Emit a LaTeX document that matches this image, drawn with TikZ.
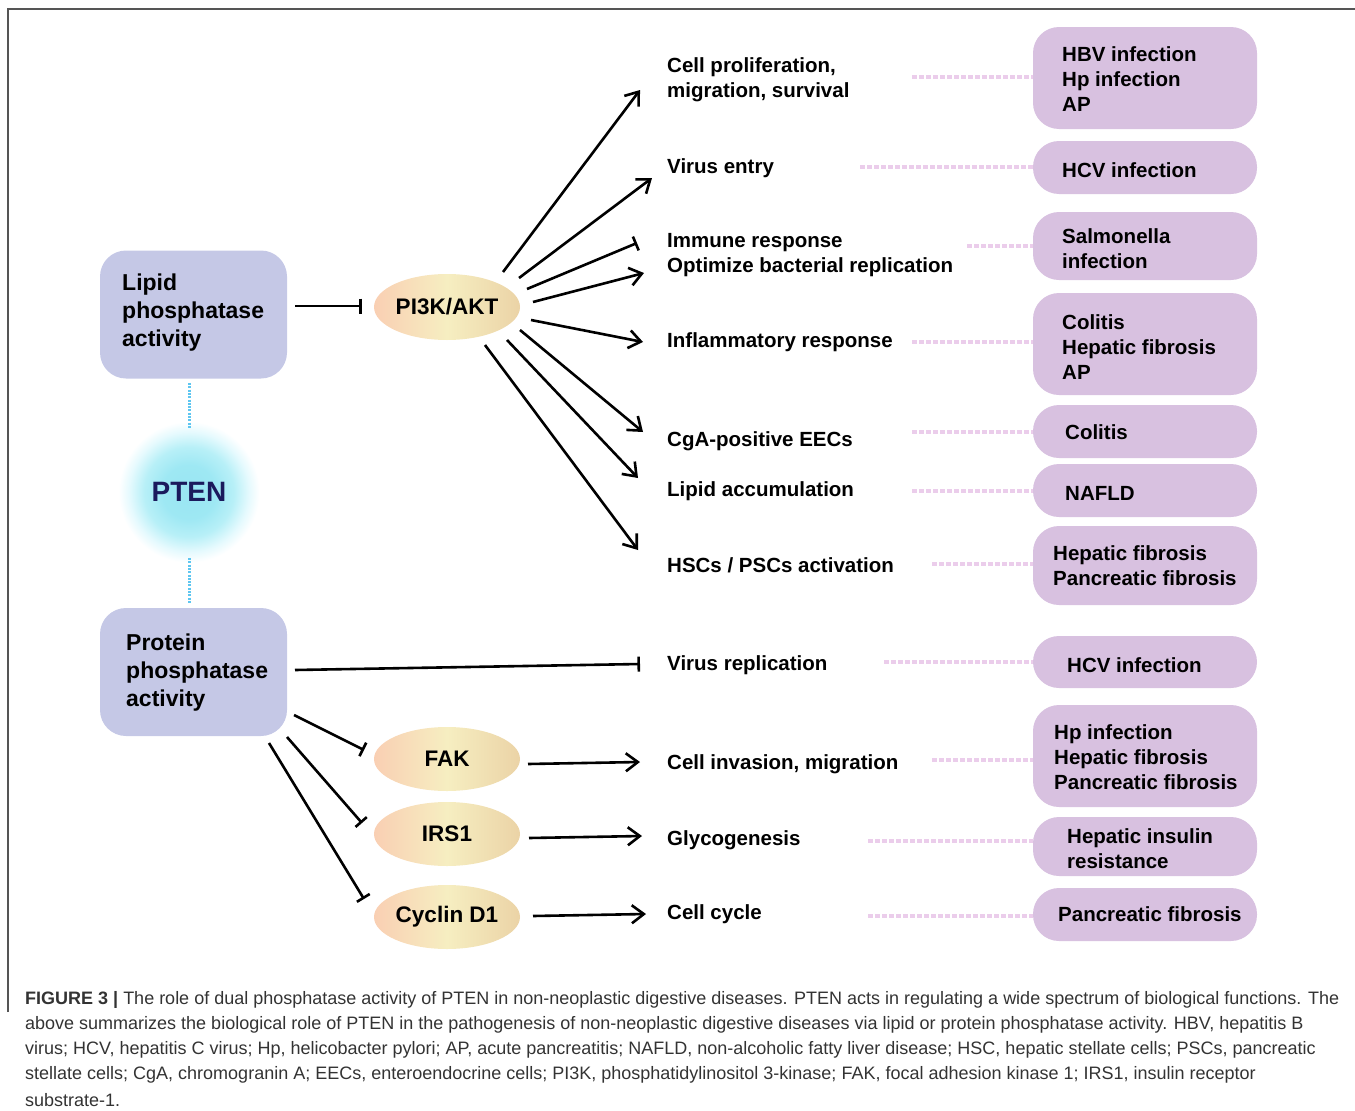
\documentclass[tikz,border=0pt]{standalone}
\usepackage{fontspec}
\setmainfont{Liberation Sans}
\usetikzlibrary{shapes.geometric,arrows.meta,calc}
\definecolor{lavbox}{HTML}{C5C8E6}
\definecolor{lilbox}{HTML}{D8C1E0}
\definecolor{pinkdot}{HTML}{EBCDEB}
\definecolor{bluedot}{HTML}{5EC6F0}
\definecolor{ptentext}{HTML}{1B1A5C}
\definecolor{framecol}{HTML}{555555}
\definecolor{captext}{HTML}{333333}
\definecolor{peach}{HTML}{F9CFB3}
\definecolor{paleyel}{HTML}{F6EEC1}
\definecolor{tanc}{HTML}{EBD3A6}
\pgfdeclareradialshading{ptenglow}{\pgfpoint{0bp}{0bp}}{rgb(0bp)=(0.60,0.90,0.95); rgb(9bp)=(0.62,0.91,0.955); rgb(15bp)=(0.72,0.94,0.97); rgb(20bp)=(0.90,0.98,0.995); rgb(23.5bp)=(1,1,1); rgb(50bp)=(1,1,1)}
\begin{document}
\begin{tikzpicture}[x=1pt,y=-1pt,
  lbox/.style={draw=none,fill=lavbox,rounded corners=26pt,minimum width=187pt,minimum height=128pt,inner sep=0pt},
  rbox/.style={draw=none,fill=lilbox,rounded corners=26pt,minimum width=224pt,inner sep=0pt},
  ltxt/.style={anchor=west,align=left,inner sep=0pt,font=\fontsize{23}{28}\selectfont\bfseries},
  mtxt/.style={anchor=west,align=left,inner sep=0pt,font=\fontsize{20.5}{25}\selectfont\bfseries},
  rtxt/.style={anchor=west,align=left,inner sep=0pt,font=\fontsize{20.5}{25}\selectfont\bfseries},
  ell/.style={ellipse,draw=none,minimum width=146pt,minimum height=66pt,inner sep=0pt,
    left color=peach,right color=tanc,middle color=paleyel,font=\fontsize{22.5}{27}\selectfont\bfseries},
  act/.style={line width=2.6pt,-{Straight Barb[length=12pt,width=18pt,line width=2.6pt]}},
  inh/.style={line width=2.6pt,-{Bar[width=15pt,line width=2.6pt]}},
  pdot/.style={pinkdot,line width=4.5pt,dash pattern=on 5pt off 2pt},
  bdot/.style={bluedot,line width=3pt,dash pattern=on 2pt off 1.3pt},
  captxt/.style={anchor=west,inner sep=0pt,text=captext,font=\fontsize{18}{25}\selectfont}
]
\path[use as bounding box] (0,0) rectangle (1355,1111);
\draw[framecol,line width=1.6pt] (8,1012) -- (8,9) -- (1355,9);

% left boxes
\node[lbox] (lipid) at (193.5,314.5) {};
\node[ltxt] (lipidt) at (122,313) {Lipid\\phosphatase\\activity};
\node[lbox] (prot) at (193.5,672) {};
\node[ltxt] (prott) at (126,673) {Protein\\phosphatase\\activity};

% PTEN
\node[circle,minimum size=150pt,inner sep=0pt,draw=none,shading=ptenglow] (ptenc) at (189,492) {};
\node[text=ptentext,font=\fontsize{28}{32}\selectfont\bfseries,inner sep=0pt] (pten) at (189,492) {PTEN};
\coordinate (bd1s) at (189,383); \coordinate (bd1e) at (189,428);
\coordinate (bd2s) at (189,558); \coordinate (bd2e) at (189,603);
\draw[bdot] (bd1s) -- (bd1e);
\draw[bdot] (bd2s) -- (bd2e);

% ellipses
\node[ell] (pi3k) at (447,307) {PI3K/AKT};
\node[ell,minimum height=64pt] (fak) at (447,759) {FAK};
\node[ell,minimum height=64pt] (irs) at (447,834) {IRS1};
\node[ell,minimum height=64pt] (cyc) at (447,917) {Cyclin D1};

% lipid inhibition
\coordinate (li1) at (295,306); \coordinate (li2) at (362,306);
\draw[inh] (li1) -- (li2);

% PI3K outputs
\coordinate (p1s) at (503,272); \coordinate (p1e) at (640,90);
\coordinate (p2s) at (519,278); \coordinate (p2e) at (652,178);
\coordinate (p3s) at (527,289); \coordinate (p3e) at (637,243);
\coordinate (p4s) at (533,302); \coordinate (p4e) at (644,273);
\coordinate (p5s) at (531,320); \coordinate (p5e) at (643,342);
\coordinate (p6s) at (520,330); \coordinate (p6e) at (643,432);
\coordinate (p7s) at (507,340); \coordinate (p7e) at (638,478);
\coordinate (p8s) at (485,345); \coordinate (p8e) at (638,550);
\draw[act] (p1s) -- (p1e);
\draw[act] (p2s) -- (p2e);
\draw[inh] (p3s) -- (p3e);
\draw[act] (p4s) -- (p4e);
\draw[act] (p5s) -- (p5e);
\draw[act] (p6s) -- (p6e);
\draw[act] (p7s) -- (p7e);
\draw[act] (p8s) -- (p8e);

% protein inhibitions
\coordinate (q0s) at (295,670); \coordinate (q0e) at (640,664);
\coordinate (q1s) at (294,715); \coordinate (q1e) at (364,750);
\coordinate (q2s) at (287,737); \coordinate (q2e) at (362,823);
\coordinate (q3s) at (269,743); \coordinate (q3e) at (364,899);
\draw[inh] (q0s) -- (q0e);
\draw[inh] (q1s) -- (q1e);
\draw[inh] (q2s) -- (q2e);
\draw[inh] (q3s) -- (q3e);

% FAK/IRS1/Cyclin outputs
\coordinate (f1s) at (528,764); \coordinate (f1e) at (640,762);
\coordinate (f2s) at (529,838); \coordinate (f2e) at (642,836);
\coordinate (f3s) at (533,916); \coordinate (f3e) at (646,914);
\draw[act] (f1s) -- (f1e);
\draw[act] (f2s) -- (f2e);
\draw[act] (f3s) -- (f3e);

% middle labels
\node[mtxt] (m1) at (667,80) {Cell proliferation,\\migration, survival};
\node[mtxt] (m2) at (667,168) {Virus entry};
\node[mtxt] (m3) at (667,255) {Immune response\\Optimize bacterial replication};
\node[mtxt] (m4) at (667,342) {Inflammatory response};
\node[mtxt] (m5) at (667,441) {CgA-positive EECs};
\node[mtxt] (m6) at (667,491) {Lipid accumulation};
\node[mtxt] (m7) at (667,565) {HSCs / PSCs activation};
\node[mtxt] (m8) at (667,665) {Virus replication};
\node[mtxt] (m9) at (667,764) {Cell invasion, migration};
\node[mtxt] (m10) at (667,840) {Glycogenesis};
\node[mtxt] (m11) at (667,914) {Cell cycle};

% right boxes
\node[rbox,minimum height=102pt] (r1) at (1145,78) {};
\node[rbox,minimum height=53pt] (r2) at (1145,167.5) {};
\node[rbox,minimum height=68pt] (r3) at (1145,246) {};
\node[rbox,minimum height=102pt] (r4) at (1145,344) {};
\node[rbox,minimum height=53pt] (r5) at (1145,431.5) {};
\node[rbox,minimum height=53pt] (r6) at (1145,490.5) {};
\node[rbox,minimum height=79pt] (r7) at (1145,565.5) {};
\node[rbox,minimum height=52pt] (r8) at (1145,662) {};
\node[rbox,minimum height=102pt] (r9) at (1145,756) {};
\node[rbox,minimum height=59pt] (r10) at (1145,846.5) {};
\node[rbox,minimum height=53pt] (r11) at (1145,914.5) {};

\node[rtxt] (r1t) at (1062,79) {HBV infection\\Hp infection\\AP};
\node[rtxt] (r2t) at (1062,170) {HCV infection};
\node[rtxt] (r3t) at (1062,249) {Salmonella\\infection};
\node[rtxt] (r4t) at (1062,347) {Colitis\\Hepatic fibrosis\\AP};
\node[rtxt] (r5t) at (1065,432) {Colitis};
\node[rtxt] (r6t) at (1065,493) {NAFLD};
\node[rtxt] (r7t) at (1053,566) {Hepatic fibrosis\\Pancreatic fibrosis};
\node[rtxt] (r8t) at (1067,665) {HCV infection};
\node[rtxt] (r9t) at (1054,757) {Hp infection\\Hepatic fibrosis\\Pancreatic fibrosis};
\node[rtxt] (r10t) at (1067,849) {Hepatic insulin\\resistance};
\node[rtxt] (r11t) at (1058,914) {Pancreatic fibrosis};

% dotted pink links
\coordinate (d1) at (912,77);  \draw[pdot] (d1) -- (r1.west |- d1);
\coordinate (d2) at (860,167); \draw[pdot] (d2) -- (r2.west |- d2);
\coordinate (d3) at (967,246); \draw[pdot] (d3) -- (r3.west |- d3);
\coordinate (d4) at (912,342); \draw[pdot] (d4) -- (r4.west |- d4);
\coordinate (d5) at (912,432); \draw[pdot] (d5) -- (r5.west |- d5);
\coordinate (d6) at (912,491); \draw[pdot] (d6) -- (r6.west |- d6);
\coordinate (d7) at (932,564); \draw[pdot] (d7) -- (r7.west |- d7);
\coordinate (d8) at (884,662); \draw[pdot] (d8) -- (r8.west |- d8);
\coordinate (d9) at (932,760); \draw[pdot] (d9) -- (r9.west |- d9);
\coordinate (d10) at (868,841); \draw[pdot] (d10) -- (r10.west |- d10);
\coordinate (d11) at (868,916); \draw[pdot] (d11) -- (r11.west |- d11);

% caption
\node[captxt] (c1) at (25,1000) {\textbf{FIGURE 3 |} The role of dual phosphatase activity of PTEN in non-neoplastic digestive diseases. PTEN acts in regulating a wide spectrum of biological functions. The};
\node[captxt] (c2) at (25,1025) {above summarizes the biological role of PTEN in the pathogenesis of non-neoplastic digestive diseases via lipid or protein phosphatase activity. HBV, hepatitis B};
\node[captxt] (c3) at (25,1050) {virus; HCV, hepatitis C virus; Hp, helicobacter pylori; AP, acute pancreatitis; NAFLD, non-alcoholic fatty liver disease; HSC, hepatic stellate cells; PSCs, pancreatic};
\node[captxt] (c4) at (25,1075) {stellate cells; CgA, chromogranin A; EECs, enteroendocrine cells; PI3K, phosphatidylinositol 3-kinase; FAK, focal adhesion kinase 1; IRS1, insulin receptor};
\node[captxt] (c5) at (25,1100) {substrate-1.};
\end{tikzpicture}
\end{document}
